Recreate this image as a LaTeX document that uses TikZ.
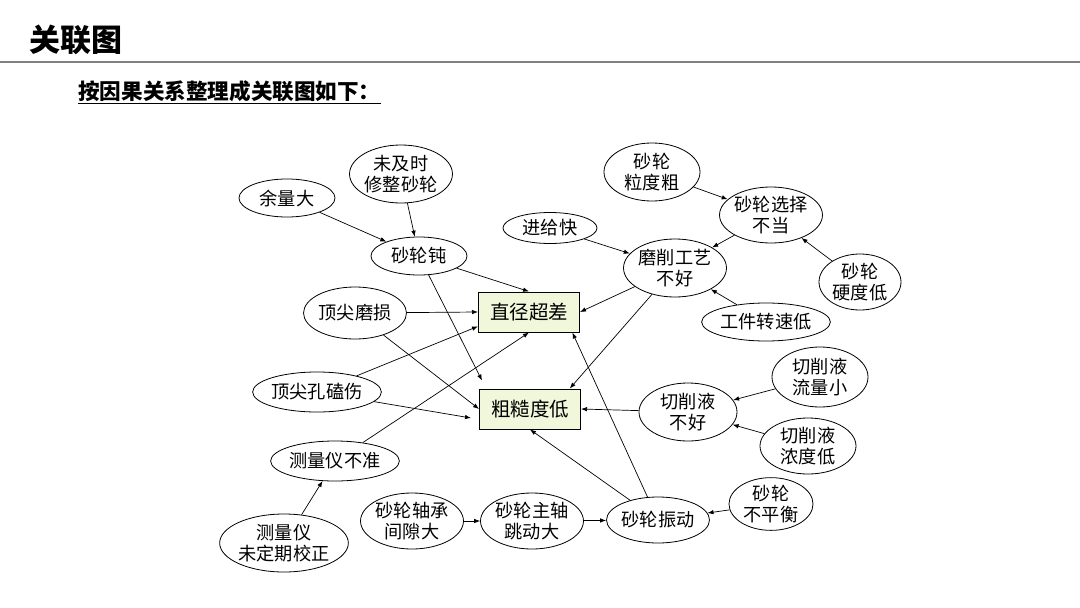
\documentclass[tikz,border=0pt]{standalone}
\usepackage{fontspec}
\setmainfont{Noto Sans CJK SC}
\usetikzlibrary{shapes.geometric,arrows.meta,calc}
\definecolor{boxfill}{HTML}{F1F7DB}
\definecolor{rulegray}{HTML}{808080}
\begin{document}
\begin{tikzpicture}[x=1pt,y=-1pt,
  el/.style={draw,ellipse,line width=0.8pt,inner sep=0pt,align=center,font=\fontsize{18.2}{20.5}\selectfont},
  bx/.style={draw,line width=1pt,fill=boxfill,minimum width=101pt,minimum height=40pt,inner sep=0pt,font=\fontsize{19.5}{22}\selectfont},
  ar/.style={-{Latex[length=6pt,width=4.5pt]},line width=0.7pt}]
\useasboundingbox (0,0) rectangle (1080,608);
% header
\node[anchor=west,inner sep=0pt,font=\fontsize{31}{33}\selectfont\bfseries] (title) at (29,40) {关联图};
\coordinate (rl) at (0,62);
\coordinate (rr) at (1080,62);
\draw[rulegray,line width=1.5pt] (rl) -- (rr);
\node[anchor=west,inner sep=0pt,font=\fontsize{21.6}{24}\selectfont\bfseries] (sub) at (78,92) {\underline{按因果关系整理成关联图如下：}};
% boxes
\node[bx] (zj) at (529,312) {直径超差};
\node[bx] (cc) at (530,409) {粗糙度低};
% ellipses
\node[el,minimum width=96pt,minimum height=38pt] (yl) at (287,198) {余量大};
\node[el,minimum width=98pt,minimum height=58pt] (wj) at (401,174) {未及时\\修整砂轮};
\node[el,minimum width=96pt,minimum height=38pt] (sd) at (419,256) {砂轮钝};
\node[el,minimum width=94pt,minimum height=31pt] (jg) at (550,228) {进给快};
\node[el,minimum width=78pt,minimum height=52pt] (dm) at (355,313) {顶尖磨损};
\node[el,minimum width=96pt,minimum height=58pt] (ld) at (652,172) {砂轮\\粒度粗};
\node[el,minimum width=96pt,minimum height=56pt] (xz) at (771,215) {砂轮选择\\不当};
\node[el,minimum width=96pt,minimum height=58pt] (mx) at (675,268) {磨削工艺\\不好};
\node[el,minimum width=82pt,minimum height=56pt] (yd) at (860,282) {砂轮\\硬度低};
\node[el,minimum width=96pt,minimum height=38pt] (gj) at (766,322) {工件转速低};
\node[el,minimum width=96pt,minimum height=40pt] (dk) at (317,392) {顶尖孔磕伤};
\node[el,minimum width=96pt,minimum height=40pt] (cl) at (335,461) {测量仪不准};
\node[el,minimum width=126pt,minimum height=58pt] (wd) at (284,543) {测量仪\\未定期校正};
\node[el,minimum width=96pt,minimum height=56pt] (zc) at (412,521) {砂轮轴承\\间隙大};
\node[el,minimum width=96pt,minimum height=56pt] (zz) at (532,521) {砂轮主轴\\跳动大};
\node[el,minimum width=96pt,minimum height=46pt] (zd) at (658,520) {砂轮振动};
\node[el,minimum width=84pt,minimum height=48pt] (bp) at (771,504) {砂轮\\不平衡};
\node[el,minimum width=98pt,minimum height=58pt] (qb) at (688,412) {切削液\\不好};
\node[el,minimum width=96pt,minimum height=60pt] (ll) at (820,377) {切削液\\流量小};
\node[el,minimum width=96pt,minimum height=56pt] (nd) at (808,446) {切削液\\浓度低};
% arrows
\draw[ar] (yl) -- (sd);
\draw[ar] (wj) -- (sd);
\draw[ar] (sd) -- (zj.north);
\draw[ar] (sd) -- ($(cc.north west)+(3,-8)$);
\draw[ar] (dm) -- (zj.west);
\draw[ar] (dm) -- (cc.west);
\draw[ar] (dk) -- ($(zj.west)!0.7!(zj.south west)$);
\draw[ar] (dk) -- ($(cc.west)+(-8,9)$);
\draw[ar] (cl) -- (zj.south);
\draw[ar] (wd) -- (cl);
\draw[ar] (jg) -- (mx);
\draw[ar] (ld) -- (xz);
\draw[ar] (xz) -- (mx);
\draw[ar] (yd) -- (xz);
\draw[ar] (gj) -- (mx);
\draw[ar] (mx) -- (zj.east);
\draw[ar] (mx) -- ($(cc.north)!0.78!(cc.north east)$);
\draw[ar] (qb) -- (cc.east);
\draw[ar] (ll) -- (qb);
\draw[ar] (nd) -- (qb);
\draw[ar] (zd) -- ($(zj.south)!0.85!(zj.south east)$);
\draw[ar] (zd) -- (cc.south);
\draw[ar] (bp) -- (zd);
\draw[ar] (zc) -- (zz);
\draw[ar] (zz) -- (zd);
\end{tikzpicture}
\end{document}
